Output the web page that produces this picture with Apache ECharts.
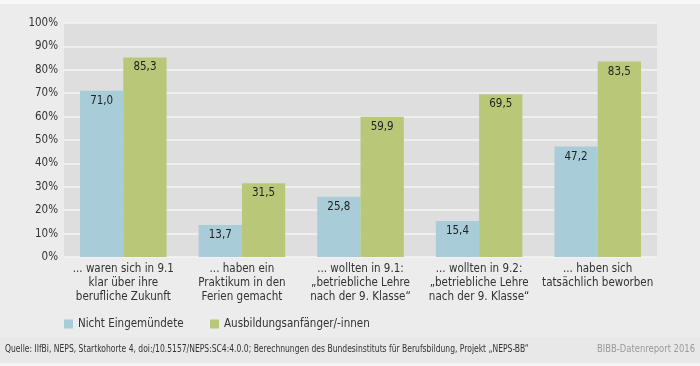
<!DOCTYPE html>
<html><head><meta charset="utf-8">
<script src="https://cdn.jsdelivr.net/npm/echarts@6/dist/echarts.min.js"></script>
<style>html,body{margin:0;padding:0;background:#ececec}#c{width:700px;height:366px}</style>
</head><body><div id="c"></div>
<script>
var categories = [
  "... waren sich in 9.1\nklar über ihre\nberufliche Zukunft",
  "... haben ein\nPraktikum in den\nFerien gemacht",
  "... wollten in 9.1:\n„betriebliche Lehre\nnach der 9. Klasse“",
  "... wollten in 9.2:\n„betriebliche Lehre\nnach der 9. Klasse“",
  "... haben sich\ntatsächlich beworben"
];
var seriesNames = ["Nicht Eingemündete", "Ausbildungsanfänger/-innen"];
var nichtEingemuendete = [71.0, 13.7, 25.8, 15.4, 47.2];
var ausbildungsanfaenger = [85.3, 31.5, 59.9, 69.5, 83.5];
var yTicks = [0, 10, 20, 30, 40, 50, 60, 70, 80, 90, 100];
var sourceText = "Quelle: IIfBi, NEPS, Startkohorte 4, doi:/10.5157/NEPS:SC4:4.0.0; Berechnungen des Bundesinstituts für Berufsbildung, Projekt „NEPS-BB“";
var brandText = "BIBB-Datenreport 2016";

var FONT = "'Liberation Sans Narrow','DejaVu Sans Condensed',sans-serif";
var chart = echarts.init(document.getElementById('c'), null, {renderer: 'canvas'});
function fmt(v){ return v.toFixed(1).replace('.', ','); }
var labelCfg = {show: true, position: 'insideTop', distance: 4, color: '#222', fontFamily: FONT, fontSize: 11.5,
  formatter: function(p){ return fmt(p.value); }};
chart.setOption({
  backgroundColor: '#ececec',
  textStyle: {fontFamily: FONT},
  graphic: [
    {type: 'rect', shape: {x: 0, y: 0, width: 700, height: 4}, style: {fill: '#f7f7f7'}, silent: true},
    {type: 'rect', shape: {x: 0, y: 337, width: 700, height: 26}, style: {fill: '#e8e8e8'}, silent: true},
    {type: 'rect', shape: {x: 0, y: 363, width: 700, height: 3}, style: {fill: '#f5f5f5'}, silent: true},
    {type: 'text', x: 5, y: 344, scaleX: 0.77, style: {text: sourceText, fill: '#333', font: '11px ' + FONT}},
    {type: 'text', x: 695, y: 344, scaleX: 0.85, style: {text: brandText, fill: '#9a9a9a', align: 'right', font: '11px ' + FONT}}
  ],
  grid: {left: 64, right: 43, top: 23, bottom: 109, backgroundColor: '#dedede', show: true, borderWidth: 0},
  legend: [
    {data: [seriesNames[0]], left: 59, top: 313, itemWidth: 9, itemHeight: 9, icon: 'rect',
     textStyle: {fontFamily: FONT, fontSize: 11.5, color: '#333'}},
    {data: [seriesNames[1]], left: 205, top: 313, itemWidth: 9, itemHeight: 9, icon: 'rect',
     textStyle: {fontFamily: FONT, fontSize: 11.5, color: '#333'}}
  ],
  xAxis: {type: 'category', data: categories,
    axisLine: {show: false}, axisTick: {show: false},
    axisLabel: {interval: 0, color: '#333', fontSize: 11.5, lineHeight: 14, margin: 5, fontFamily: FONT}},
  yAxis: {type: 'value', min: 0, max: 100, interval: 10,
    axisLine: {show: false}, axisTick: {show: false},
    splitLine: {lineStyle: {color: '#f4f4f4', width: 1.5}},
    axisLabel: {color: '#333', fontSize: 11.5, margin: 6, fontFamily: FONT,
      formatter: function(v){ return yTicks.indexOf(v) >= 0 ? v + '%' : ''; }}},
  series: [
    {name: seriesNames[0], type: 'bar', data: nichtEingemuendete, barGap: '0%', barCategoryGap: '27%',
     itemStyle: {color: '#a8cdd8'}, label: labelCfg},
    {name: seriesNames[1], type: 'bar', data: ausbildungsanfaenger,
     itemStyle: {color: '#b8c878'}, label: labelCfg}
  ]
});
</script></body></html>
